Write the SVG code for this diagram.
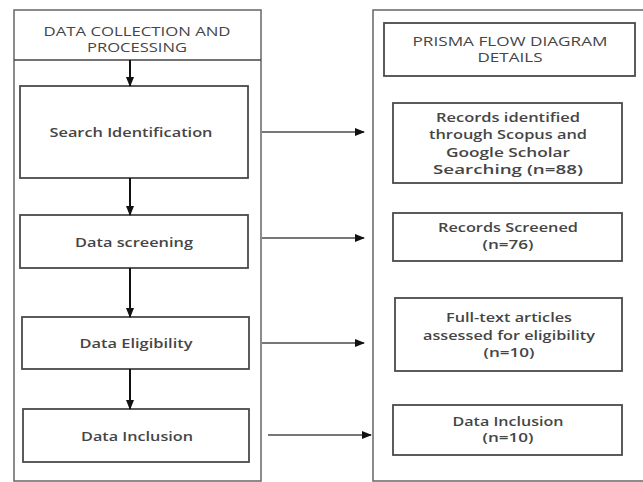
<svg xmlns="http://www.w3.org/2000/svg" width="643" height="482" viewBox="0 0 643 482">
<defs>
<style>
.panel{fill:#fff;stroke:#666;stroke-width:1.5}
.box{fill:#fff;stroke:#4a4a4a;stroke-width:1.8}
.t{font-family:"Open Sans","Liberation Sans",sans-serif;font-size:12px;fill:#454545;text-anchor:middle}
.b{font-weight:600}
.v{stroke:#111;stroke-width:2;fill:none}
.h{stroke:#777;stroke-width:2.2;fill:none}
</style>
<marker id="ah" markerWidth="10" markerHeight="8" refX="9" refY="4" orient="auto" markerUnits="userSpaceOnUse">
<path d="M0,0 L10,4 L0,8 Z" fill="#111"/>
</marker>
</defs>
<rect width="643" height="482" fill="#fff"/>

<g id="left-panel">
<rect class="panel" x="14" y="10" width="247" height="471"/>
<line x1="14" y1="60" x2="261" y2="60" stroke="#444" stroke-width="1.5"/>
<text class="t" x="137" y="36" textLength="187" lengthAdjust="spacingAndGlyphs">DATA COLLECTION AND</text>
<text class="t" x="137" y="52" textLength="100" lengthAdjust="spacingAndGlyphs">PROCESSING</text>
</g>

<g id="right-panel">
<rect class="panel" x="373" y="10" width="280" height="471"/>
</g>

<g id="search-identification">
<rect class="box" x="20" y="86" width="228" height="92"/>
<text class="t b" x="131" y="137" textLength="163" lengthAdjust="spacingAndGlyphs">Search Identification</text>
</g>
<g id="data-screening">
<rect class="box" x="20" y="215" width="228" height="53"/>
<text class="t b" x="134" y="247" textLength="118" lengthAdjust="spacingAndGlyphs">Data screening</text>
</g>
<g id="data-eligibility">
<rect class="box" x="22" y="317" width="227" height="52"/>
<text class="t b" x="136" y="348" textLength="113" lengthAdjust="spacingAndGlyphs">Data Eligibility</text>
</g>
<g id="data-inclusion">
<rect class="box" x="23" y="409" width="226" height="53"/>
<text class="t b" x="137" y="441" textLength="112" lengthAdjust="spacingAndGlyphs">Data Inclusion</text>
</g>

<g id="prisma-header">
<rect class="box" x="384" y="23" width="251" height="53"/>
<text class="t" x="510" y="46" textLength="195" lengthAdjust="spacingAndGlyphs">PRISMA FLOW DIAGRAM</text>
<text class="t" x="510" y="62" textLength="65" lengthAdjust="spacingAndGlyphs">DETAILS</text>
</g>
<g id="records-identified">
<rect class="box" x="393" y="103" width="229" height="80"/>
<text class="t b" x="508" y="122" textLength="144" lengthAdjust="spacingAndGlyphs">Records identified</text>
<text class="t b" x="508" y="139" textLength="158" lengthAdjust="spacingAndGlyphs">through Scopus and</text>
<text class="t b" x="508" y="157" textLength="124" lengthAdjust="spacingAndGlyphs">Google Scholar</text>
<text class="t b" x="508" y="174" textLength="150" lengthAdjust="spacingAndGlyphs">Searching (n=88)</text>
</g>
<g id="records-screened">
<rect class="box" x="393" y="213" width="229" height="48"/>
<text class="t b" x="508" y="232" textLength="140" lengthAdjust="spacingAndGlyphs">Records Screened</text>
<text class="t b" x="508" y="249" textLength="51" lengthAdjust="spacingAndGlyphs">(n=76)</text>
</g>
<g id="full-text">
<rect class="box" x="395" y="298" width="227" height="73"/>
<text class="t b" x="509" y="322" textLength="126" lengthAdjust="spacingAndGlyphs">Full-text articles</text>
<text class="t b" x="509" y="340" textLength="172" lengthAdjust="spacingAndGlyphs">assessed for eligibility</text>
<text class="t b" x="509" y="357" textLength="51" lengthAdjust="spacingAndGlyphs">(n=10)</text>
</g>
<g id="data-inclusion-n">
<rect class="box" x="393" y="405" width="229" height="50"/>
<text class="t b" x="508" y="426" textLength="111" lengthAdjust="spacingAndGlyphs">Data Inclusion</text>
<text class="t b" x="508" y="442" textLength="51" lengthAdjust="spacingAndGlyphs">(n=10)</text>
</g>

<g id="connectors">
<line class="v" x1="130" y1="60" x2="130" y2="86" marker-end="url(#ah)"/>
<line class="v" x1="130" y1="178" x2="130" y2="215" marker-end="url(#ah)"/>
<line class="v" x1="130" y1="268" x2="130" y2="317" marker-end="url(#ah)"/>
<line class="v" x1="130" y1="369" x2="130" y2="409" marker-end="url(#ah)"/>
<line class="h" x1="262" y1="132" x2="364" y2="132" marker-end="url(#ah)"/>
<line class="h" x1="262" y1="238" x2="364" y2="238" stroke="#444" stroke-width="1.6" marker-end="url(#ah)"/>
<line class="h" x1="262" y1="343" x2="364" y2="343" marker-end="url(#ah)"/>
<line class="h" x1="268" y1="435" x2="371" y2="435" marker-end="url(#ah)"/>
</g>
</svg>
